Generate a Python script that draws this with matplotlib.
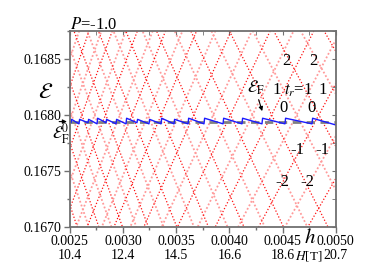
import matplotlib
matplotlib.use("Agg")
import matplotlib.pyplot as plt
import matplotlib.transforms as mtransforms
from matplotlib.ticker import MultipleLocator

plt.rcParams['font.family'] = ['Liberation Serif', 'DejaVu Serif']
plt.rcParams['mathtext.fontset'] = 'stix'

# --- dados ---
h_ends = [0.0025, 0.0050]

# niveis com inclinacao positiva (valor de energia em h=0.0025 e h=0.0050)
red_up_left = [0.16276, 0.16331, 0.16386, 0.16441, 0.16496, 0.16551, 0.16606, 0.16661, 0.16716, 0.16770, 0.16825]
red_up_right = [0.16658, 0.16743, 0.16828, 0.16914, 0.16999, 0.17085, 0.17170, 0.17255, 0.17341, 0.17426, 0.17512]
pink_up_left = [0.16301, 0.16356, 0.16411, 0.16466, 0.16521, 0.16575, 0.16630, 0.16685, 0.16740, 0.16795, 0.16850]
pink_up_right = [0.16696, 0.16781, 0.16867, 0.16952, 0.17038, 0.17123, 0.17208, 0.17294, 0.17379, 0.17465, 0.17550]

# niveis com inclinacao negativa
red_dn_left = [0.17269, 0.17214, 0.17159, 0.17104, 0.17049, 0.16994, 0.16939, 0.16885, 0.16830, 0.16775, 0.16720]
red_dn_right = [0.16857, 0.16772, 0.16686, 0.16601, 0.16516, 0.16430, 0.16345, 0.16259, 0.16174, 0.16089, 0.16003]
pink_dn_left = [0.17244, 0.17189, 0.17134, 0.17079, 0.17025, 0.16970, 0.16915, 0.16860, 0.16805, 0.16750]
pink_dn_right = [0.16819, 0.16733, 0.16648, 0.16562, 0.16477, 0.16392, 0.16306, 0.16221, 0.16135, 0.16050]

# nivel de Fermi (dente de serra)
jump_h = [0.002512, 0.002587, 0.002672, 0.002757, 0.002841, 0.002935, 0.003029, 0.003132, 0.003245,
          0.003358, 0.003480, 0.003612, 0.003762, 0.003941, 0.004119, 0.004307, 0.004523, 0.004777]
blue_lo = [0.16793, 0.16792, 0.16793, 0.16792, 0.16793, 0.16792, 0.16792, 0.16793, 0.16792,
           0.16792, 0.16792, 0.16792, 0.16792, 0.16792, 0.16792, 0.16792, 0.16792, 0.16792]
blue_hi = [0.16796, 0.16796, 0.16796, 0.16797, 0.16796, 0.16796, 0.16797, 0.16796, 0.16796,
           0.16797, 0.16796, 0.16797, 0.16797, 0.16797, 0.16797, 0.16797, 0.16797, 0.16797]
blue_start = 0.16794
blue_end = 0.16791
eF0 = 0.16794

x_ticks = [0.0025, 0.0030, 0.0035, 0.0040, 0.0045, 0.0050]
H_labels = ["10.4", "12.4", "14.5", "16.6", "18.6", "20.7"]
y_ticks = [0.1670, 0.1675, 0.1680, 0.1685]

# rotulos t_r nos losangos: (texto, h, energia)
gap_labels = [("2", 0.004533, 0.16848), ("2", 0.004787, 0.16848),
              ("1", 0.004448, 0.16822), ("1", 0.004881, 0.16822),
              ("0", 0.004514, 0.16806), ("0", 0.004768, 0.16806),
              ("-1", 0.004637, 0.16769), ("-1", 0.004871, 0.16769),
              ("-2", 0.004495, 0.16740), ("-2", 0.004730, 0.16740)]

fig = plt.figure(figsize=(3.9, 2.72), dpi=100)
ax = fig.add_axes([0.1787, 0.1665, 0.6821, 0.7195])

red = "#ff1010"
pink = "#ff9a9a"
for l, r in zip(pink_up_left, pink_up_right):
    ax.plot(h_ends, [l, r], color=pink, lw=1.3, ls=(0, (1, 1.2)))
for l, r in zip(pink_dn_left, pink_dn_right):
    ax.plot(h_ends, [l, r], color=pink, lw=1.3, ls=(0, (1, 1.2)))
for l, r in zip(red_up_left, red_up_right):
    ax.plot(h_ends, [l, r], color=red, lw=0.9, ls=(0, (1, 1.6)))
for l, r in zip(red_dn_left, red_dn_right):
    ax.plot(h_ends, [l, r], color=red, lw=0.9, ls=(0, (1, 1.6)))

ax.axhline(eF0, color="#808080", lw=2, ls=(0, (3, 2)))

bx = [h_ends[0]]
by = [blue_start]
for hj, lo, hi in zip(jump_h, blue_lo, blue_hi):
    bx += [hj, hj + 0.000006]
    by += [lo, hi]
bx.append(h_ends[1])
by.append(blue_end)
ax.plot(bx, by, color="#1a1aff", lw=1.0)

ax.set_xlim(0.0025, 0.0050)
ax.set_ylim(0.1670, 0.16875)
ax.set_xticks(x_ticks)
ax.set_xticklabels([f"{x:.4f}" for x in x_ticks])
ax.set_yticks(y_ticks)
ax.set_yticklabels([f"{y:.4f}" for y in y_ticks])
ax.xaxis.set_minor_locator(MultipleLocator(0.00025))
ax.yaxis.set_minor_locator(MultipleLocator(0.00025))
ax.tick_params(which="both", direction="out", top=False, right=False, labelsize=10, pad=2, color="#707070")
ax.tick_params(which="major", length=4, width=1)
ax.tick_params(which="minor", length=2.5, width=1)
sec = ax.secondary_xaxis("top")
sec.set_xticks(x_ticks)
sec.xaxis.set_minor_locator(MultipleLocator(0.00025))
sec.tick_params(which="both", direction="in", labeltop=False, color="#707070", length=3)
sec.spines["top"].set_visible(False)
secy = ax.secondary_yaxis("right")
secy.set_yticks(y_ticks)
secy.yaxis.set_minor_locator(MultipleLocator(0.00025))
secy.tick_params(which="both", direction="in", labelright=False, color="#707070", length=3)
secy.spines["right"].set_visible(False)
for s in ax.spines.values():
    s.set_color("#707070")
    s.set_linewidth(1.3)

trans_x = mtransforms.blended_transform_factory(ax.transData, ax.transAxes)
# segunda linha do eixo x: campo em tesla
for x, H in zip(x_ticks, H_labels):
    ax.text(x, -0.145, H, transform=trans_x, fontsize=10, ha="center", va="center")

ax.text(0.0, 1.012, "$P$=-1.0", transform=ax.transAxes, fontsize=12, ha="left", va="baseline")
ax.text(-0.09, 0.68, r"$\mathcal{E}$", transform=ax.transAxes, fontsize=16, ha="center", va="center")

ax.text(0.004758, -0.06, "$h$", transform=trans_x, fontsize=15, ha="center", va="center")
ax.text(0.004750, -0.148, "$H$[T]", transform=trans_x, fontsize=9.5, ha="center", va="center")

trans_y = mtransforms.blended_transform_factory(ax.transAxes, ax.transData)
ax.annotate("", xy=(0.0, eF0), xycoords=trans_y, xytext=(-0.05, eF0), textcoords=trans_y,
            arrowprops=dict(arrowstyle="-|>", color="black", lw=0.8, mutation_scale=6), annotation_clip=False)
ax.text(-0.032, 0.16783, r"$\mathcal{E}_{\mathrm{F}}^{0}$", transform=trans_y, fontsize=12,
        ha="center", va="center")

ax.text(0.004251, 0.16824, r"$\mathcal{E}_{\mathrm{F}}$", fontsize=12, ha="center", va="center")
ax.annotate("", xy=(0.004317, 0.16801), xytext=(0.004268, 0.16816),
            arrowprops=dict(arrowstyle="-|>", color="black", lw=0.8, mutation_scale=6))
ax.text(0.004646, 0.16822, r"$t_r$=1", fontsize=12, ha="center", va="center")
for txt, hx, ey in gap_labels:
    ax.text(hx, ey, txt, fontsize=12, ha="center", va="center")

fig.savefig("out.png", dpi=100)
